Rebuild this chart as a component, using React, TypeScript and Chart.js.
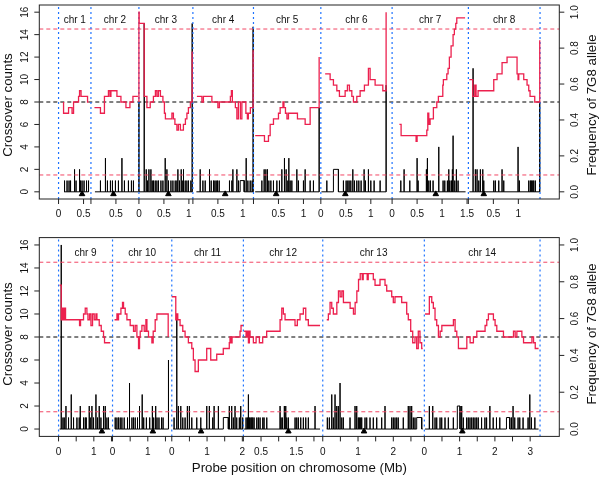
import React, { useEffect, useRef } from "react";
import { Chart, registerables } from "chart.js";
Chart.register(...registerables);

const FONT = '"Liberation Sans", Arial, Helvetica, sans-serif';

// ---------- top panel ----------
const topNames = ["chr 1", "chr 2", "chr 3", "chr 4", "chr 5", "chr 6", "chr 7", "chr 8"];
const topLens = [0.648, 0.96, 1.08, 1.212, 1.348, 1.426, 1.526, 1.434];
const topShown = [[0, 0.5], [0.5], [0, 0.5, 1], [0.5, 1], [0.5, 1], [0, 0.5, 1], [0, 0.5, 1, 1.5], [0.5, 1]];
const topCentromeres = [0.47, 0.45, 0.59, 0.646, 0.454, 0.49, 0.874, 0.308];

const chr1RedX = [0.1, 0.1, 0.2, 0.27, 0.3, 0.4, 0.42, 0.45, 0.58, 0.6];
const chr1RedY = [8, 7, 7.5, 7, 8, 8.5, 9, 8.5, 8, 8];
const chr1BarX = [0.12, 0.17, 0.21, 0.24, 0.32, 0.35, 0.42, 0.44, 0.47, 0.51, 0.56, 0.6];
const chr1BarY = [1, 1, 1, 1, 2, 1, 2, 1, 1, 1, 1, 1];
const chr1Base = [0.11, 0.6];

const chr2RedX = [0.07, 0.19, 0.27, 0.35, 0.38, 0.4, 0.52, 0.6, 0.7, 0.78, 0.84, 0.94];
const chr2RedY = [7.5, 7, 8.5, 9, 8.5, 9, 8.5, 8, 7.5, 8, 8.5, 8.5];
const chr2BarX = [0.19, 0.29, 0.33, 0.39, 0.43, 0.49, 0.55, 0.62, 0.67, 0.75, 0.81, 0.85];
const chr2BarY = [1, 3, 1, 1, 1, 1, 1, 3, 1, 1, 1, 1];
const chr2Base = [0.08, 0.95];

const chr3RedX = [0, 0, 0.005, 0.106, 0.16, 0.226, 0.29, 0.33, 0.36, 0.39, 0.43, 0.48, 0.51, 0.53, 0.66, 0.69, 0.72, 0.76, 0.79, 0.83, 0.89, 0.93, 0.96, 0.99, 1.03, 1.065, 1.065];
const chr3RedY = [8, 16, 15, 8.5, 7.5, 8, 8.5, 9, 8.5, 9, 8.5, 8, 7, 6.5, 7, 6.5, 6, 5.5, 6, 5.5, 6, 6.5, 7, 7.5, 8, 8, 12.5];
const chr3BarX = [0, 0.106, 0.146, 0.172, 0.2, 0.24, 0.266, 0.292, 0.326, 0.36, 0.392, 0.44, 0.48, 0.526, 0.56, 0.592, 0.64, 0.68, 0.726, 0.76, 0.78, 0.812, 0.846, 0.866, 0.892, 0.926, 0.96, 0.992, 1.04, 1.066];
const chr3BarY = [8, 15, 2, 1, 2, 2, 1, 1, 1, 1, 1, 1, 1, 3, 2, 1, 1, 1, 1, 1, 2, 1, 2, 1, 2, 1, 1, 1, 1, 15];
const chr3Base = [0, 1.066];

const chr4RedX = [0.08, 0.18, 0.21, 0.38, 0.5, 0.53, 0.75, 0.77, 0.79, 0.85, 0.88, 0.91, 0.95, 0.98, 1.06, 1.09, 1.11, 1.15, 1.205, 1.205];
const chr4RedY = [8.5, 8, 8.5, 8, 7.5, 8, 8.5, 9, 8, 7.5, 6.5, 8, 6.5, 8, 7, 6.5, 7, 7.5, 7.5, 12.6];
const chr4BarX = [0.146, 0.2, 0.246, 0.332, 0.366, 0.412, 0.44, 0.466, 0.492, 0.526, 0.732, 0.78, 0.8, 0.88, 0.912, 1.066, 1.1, 1.146, 1.186, 1.205];
const chr4BarY = [2, 1, 1, 2, 1, 1, 1, 1, 1, 1, 1, 1, 2, 2, 1, 3, 1, 1, 1, 14.7];
const chr4Blocks = [[0.946, 1.026, 1]];
const chr4Base = [0.07, 1.205];

const chr5RedX = [0.034, 0.22, 0.3, 0.334, 0.4, 0.5, 0.534, 0.59, 0.61, 0.64, 0.67, 0.7, 0.88, 1.034, 1.134, 1.314, 1.314];
const chr5RedY = [5, 4.5, 5, 6, 6.5, 7, 7.5, 8, 7.5, 7, 6.5, 7, 6.5, 6, 7.5, 7.5, 12];
const chr5BarX = [0.168, 0.214, 0.248, 0.28, 0.308, 0.348, 0.4, 0.468, 0.52, 0.568, 0.62, 0.654, 0.688, 0.708, 0.734, 0.768, 0.868, 0.9, 1.0, 1.034, 1.134, 1.2, 1.314];
const chr5BarY = [1, 2, 2, 2, 1, 1, 1, 1, 1, 2, 3, 2, 1, 3, 1, 1, 2, 1, 1, 2, 1, 1, 7.5];
const chr5Base = [0.034, 1.314];

const chr6RedX = [0.086, 0.186, 0.252, 0.32, 0.372, 0.486, 0.532, 0.572, 0.62, 0.652, 0.72, 0.786, 0.872, 0.952, 0.986, 1.086, 1.24, 1.306, 1.306];
const chr6RedY = [10.5, 10, 9.5, 9, 8.5, 9, 9.5, 9, 8.5, 8, 8.5, 9, 9.5, 11, 10, 9.5, 9, 9.5, 16];
const chr6BarX = [0.12, 0.452, 0.506, 0.54, 0.566, 0.6, 0.64, 0.672, 0.72, 0.76, 0.806, 0.866, 0.892, 0.952, 1.0, 1.066, 1.186, 1.306];
const chr6BarY = [1, 1, 1, 1, 1, 1, 2, 1, 1, 1, 1, 2, 1, 2, 1, 1, 1, 9.5];
const chr6Blocks = [[0.252, 0.352, 2]];
const chr6Base = [0.012, 1.306];

const chr7RedX = [0.146, 0.18, 0.48, 0.5, 0.694, 0.714, 0.734, 0.76, 0.826, 0.894, 0.926, 1.014, 1.026, 1.094, 1.12, 1.146, 1.18, 1.22, 1.246, 1.274, 1.294, 1.46];
const chr7RedY = [6, 5, 4.5, 5, 5.5, 7, 6, 6.5, 7.5, 8, 8.5, 9.5, 10, 10.5, 11, 12, 13, 14, 14.5, 15, 15.5, 15.5];
const chr7BarX = [0.174, 0.24, 0.354, 0.5, 0.52, 0.686, 0.706, 0.734, 0.766, 0.82, 0.934, 1.02, 1.054, 1.106, 1.134, 1.154, 1.186, 1.206, 1.22, 1.254, 1.286, 1.32];
const chr7BarY = [1, 2, 1, 3, 1, 2, 3, 1, 1, 1, 4, 1, 1, 1, 2, 1, 1, 2, 5, 1, 2, 1];
const chr7Base = [0.146, 1.47];

const chr8RedX = [0.02, 0.088, 0.128, 0.154, 0.194, 0.508, 0.574, 0.674, 0.774, 0.974, 0.994, 1.008, 1.108, 1.174, 1.208, 1.234, 1.328, 1.428, 1.428];
const chr8RedY = [10, 8.5, 9.5, 8.5, 9, 10, 10.5, 11.5, 12, 10.5, 10, 10.5, 10, 9.5, 9, 8.5, 8, 8, 13.5];
const chr8BarX = [0.094, 0.14, 0.174, 0.208, 0.24, 0.288, 0.308, 0.508, 0.54, 0.608, 0.674, 0.708, 0.994, 1.02, 1.208, 1.24, 1.26, 1.288, 1.308, 1.34, 1.428];
const chr8BarY = [11, 2, 2, 1, 2, 2, 1, 1, 1, 1, 2, 1, 4, 1, 1, 1, 1, 1, 1, 1, 8];
const chr8Base = [0.02, 1.428];

// ---------- bottom panel ----------
const bottomNames = ["chr 9", "chr 10", "chr 11", "chr 12", "chr 13", "chr 14"];
const bottomLens = [1.53, 1.68, 2.03, 2.25, 2.88, 3.28];
const bottomShown = [[0, 1], [0, 1], [0, 1, 2], [0.5, 1.5], [0, 1, 2], [0, 1, 2, 3]];
const bottomCentromeres = [1.229, 1.144, 0.83, 1.275, 1.17, 1.077];

const chr9RedX = [0.03, 0.076, 0.105, 0.133, 0.161, 0.198, 0.595, 0.623, 0.708, 0.756, 0.804, 0.833, 0.878, 0.918, 0.963, 1.011, 1.059, 1.088, 1.153, 1.21, 1.275, 1.303, 1.465];
const chr9RedY = [12.5, 9.5, 10.5, 9.5, 10.5, 9.5, 9, 9.5, 10, 10.5, 10, 9.5, 10, 9, 10, 9.5, 10, 9.5, 9, 8.5, 8, 7.5, 7.5];
const chr9BarX = [0.076, 0.125, 0.161, 0.21, 0.283, 0.36, 0.425, 0.521, 0.586, 0.615, 0.708, 0.756, 0.785, 0.87, 0.898, 0.946, 0.992, 1.06, 1.105, 1.153, 1.201, 1.275, 1.323, 1.371, 1.416];
const chr9BarY = [16, 1, 1, 2, 1, 3, 1, 1, 1, 2, 1, 1, 1, 2, 1, 2, 1, 3, 1, 2, 1, 2, 2, 1, 1];
const chr9Base = [0.03, 1.465];

const chr10RedX = [0.057, 0.125, 0.153, 0.17, 0.238, 0.283, 0.312, 0.36, 0.408, 0.501, 0.595, 0.643, 0.691, 0.737, 0.765, 0.785, 0.833, 0.898, 0.946, 0.975, 1.02, 1.116, 1.153, 1.209, 1.258, 1.578, 1.578];
const chr10RedY = [9.5, 10, 9.5, 10, 10.5, 11, 10.5, 10, 9.5, 9, 8.5, 9, 8, 7, 8, 8.5, 9, 8.5, 9.5, 8.5, 8, 7.5, 8.5, 9.5, 10, 10, 8];
const chr10BarX = [0.076, 0.125, 0.17, 0.218, 0.266, 0.331, 0.425, 0.482, 0.55, 0.595, 0.643, 0.708, 0.765, 0.841, 0.884, 0.96, 1.054, 1.13, 1.167, 1.224, 1.261, 1.317, 1.388, 1.433, 1.586];
const chr10BarY = [1, 1, 1, 1, 1, 1, 1, 4, 1, 1, 1, 1, 2, 3, 1, 1, 1, 2, 1, 2, 1, 1, 1, 1, 6];
const chr10Base = [0.07, 1.586];

const chr11RedX = [0, 0.113, 0.142, 0.17, 0.235, 0.311, 0.377, 0.47, 0.567, 0.612, 0.66, 0.753, 0.99, 1.104, 1.274, 1.46, 1.63, 1.65, 1.68, 1.709, 1.935, 1.963, 2.02];
const chr11RedY = [11.5, 9.5, 10, 9.5, 9, 8.5, 8, 7.5, 7, 6, 5, 6, 7, 6, 6.5, 7, 7.5, 8, 7.5, 8, 8.5, 9, 9];
const chr11BarX = [0.065, 0.142, 0.187, 0.255, 0.312, 0.377, 0.442, 0.499, 0.567, 0.708, 0.822, 0.992, 1.065, 1.161, 1.2, 1.321, 1.631, 1.699, 1.745, 1.793, 1.841, 1.915, 1.955, 2.011];
const chr11BarY = [1, 10, 2, 2, 1, 1, 2, 2, 1, 1, 1, 2, 2, 1, 2, 2, 2, 2, 1, 2, 1, 1, 2, 1];
const chr11Blocks = [[1.462, 1.603, 1]];
const chr11Base = [0.04, 2.02];

const chr12RedX = [0.02, 0.076, 0.105, 0.142, 0.17, 0.19, 0.283, 0.36, 0.453, 0.547, 0.66, 1.04, 1.088, 1.133, 1.181, 1.464, 1.529, 1.606, 1.7, 1.768, 1.841, 2.173];
const chr12RedY = [8.5, 8, 8.5, 7.5, 8.5, 8, 7.5, 8, 7.5, 8, 8.5, 9.5, 10.5, 10, 9.5, 9, 9.5, 10, 10.5, 9.5, 9, 9];
const chr12BarX = [0.076, 0.113, 0.142, 0.17, 0.21, 0.238, 0.266, 0.303, 0.38, 0.425, 0.473, 0.55, 0.586, 0.663, 1.04, 1.068, 1.105, 1.161, 1.201, 1.229, 1.275, 1.465, 1.513, 1.558, 1.626, 1.7, 1.768, 1.841, 2.031];
const chr12BarY = [1, 1, 3, 1, 1, 1, 1, 1, 1, 1, 1, 1, 1, 1, 2, 1, 1, 2, 2, 1, 1, 1, 1, 1, 1, 1, 1, 1, 2];
const chr12Base = [0.02, 2.173];

const chr13RedX = [0.113, 0.159, 0.207, 0.255, 0.3, 0.399, 0.445, 0.493, 0.541, 0.586, 0.776, 0.87, 0.918, 0.966, 1.014, 1.062, 1.119, 1.147, 1.26, 1.289, 1.433, 1.482, 1.623, 1.765, 1.813, 1.955, 2.0, 2.048, 2.238, 2.38, 2.425, 2.493, 2.55, 2.615, 2.663, 2.708, 2.756, 2.805, 2.833];
const chr13RedY = [9.5, 10, 11, 10.5, 10, 11, 12, 11.5, 12, 11, 10.5, 10, 11, 12, 13, 13.5, 13, 13.5, 13, 13.5, 13, 12.5, 13, 12.5, 12, 11.5, 11, 11.5, 11, 10, 9.5, 8.5, 7.5, 8, 7, 8.5, 7.5, 7, 7];
const chr13BarX = [0.13, 0.187, 0.255, 0.3, 0.348, 0.397, 0.442, 0.49, 0.539, 0.584, 0.773, 0.915, 0.963, 1.008, 1.037, 1.076, 1.105, 1.198, 1.246, 1.34, 1.433, 1.53, 1.671, 1.765, 1.955, 2.0, 2.048, 2.096, 2.14, 2.283, 2.425, 2.473, 2.521, 2.567, 2.615];
const chr13BarY = [1, 1, 3, 1, 3, 2, 2, 4, 1, 1, 1, 2, 2, 1, 1, 1, 1, 1, 1, 1, 1, 1, 1, 2, 1, 1, 1, 1, 1, 1, 2, 2, 2, 1, 1];
const chr13Blocks = [[2.663, 2.805, 1]];
const chr13Base = [0.113, 2.833];

const chr14RedX = [0.02, 0.142, 0.21, 0.255, 0.303, 0.351, 0.399, 0.448, 0.496, 0.824, 0.872, 0.92, 0.966, 1.204, 1.297, 1.391, 1.487, 1.722, 1.77, 1.816, 1.958, 2.006, 2.054, 2.243, 2.527, 2.575, 2.623, 2.765, 2.812, 3.05, 3.096, 3.144, 3.238];
const chr14RedY = [10, 11.5, 11, 10.5, 9.5, 9, 8, 8.5, 9, 9.5, 8.5, 8, 7, 8, 7.5, 8, 8.5, 9, 9.5, 10, 9.5, 9, 8.5, 8, 8.5, 8, 8.5, 8, 7.5, 8, 7.5, 7, 7];
const chr14BarX = [0.142, 0.238, 0.303, 0.351, 0.445, 0.493, 0.586, 0.68, 0.822, 1.059, 1.105, 1.2, 1.246, 1.294, 1.343, 1.388, 1.436, 1.484, 1.529, 1.623, 1.717, 1.765, 1.858, 1.952, 2.045, 2.139, 2.47, 2.515, 2.563, 2.657, 2.705, 2.799, 2.941, 2.99, 3.037, 3.133];
const chr14BarY = [2, 2, 1, 1, 1, 1, 1, 1, 1, 2, 1, 1, 1, 1, 1, 1, 1, 1, 1, 1, 1, 1, 2, 1, 1, 1, 1, 2, 1, 1, 1, 1, 1, 3, 1, 1];
const chr14Blocks = [[0.935, 1.011, 2], [2.328, 2.422, 1]];
const chr14Base = [0.02, 3.238];

// reference levels (crossover counts), right axis = frequency = count / 16
const refRed = [14.5, 1.5];
const refBlack = 8;
const leftTicks = [0, 2, 4, 6, 8, 10, 12, 14, 16];
const rightTicks = [0, 0.2, 0.4, 0.6, 0.8, 1.0];

type Chr = { redX: number[]; redY: number[]; barX: number[]; barY: number[]; blocks: number[][]; base: number[]; cen: number };

const topChrs: Chr[] = [
  { redX: chr1RedX, redY: chr1RedY, barX: chr1BarX, barY: chr1BarY, blocks: [], base: chr1Base, cen: topCentromeres[0] },
  { redX: chr2RedX, redY: chr2RedY, barX: chr2BarX, barY: chr2BarY, blocks: [], base: chr2Base, cen: topCentromeres[1] },
  { redX: chr3RedX, redY: chr3RedY, barX: chr3BarX, barY: chr3BarY, blocks: [], base: chr3Base, cen: topCentromeres[2] },
  { redX: chr4RedX, redY: chr4RedY, barX: chr4BarX, barY: chr4BarY, blocks: chr4Blocks, base: chr4Base, cen: topCentromeres[3] },
  { redX: chr5RedX, redY: chr5RedY, barX: chr5BarX, barY: chr5BarY, blocks: [], base: chr5Base, cen: topCentromeres[4] },
  { redX: chr6RedX, redY: chr6RedY, barX: chr6BarX, barY: chr6BarY, blocks: chr6Blocks, base: chr6Base, cen: topCentromeres[5] },
  { redX: chr7RedX, redY: chr7RedY, barX: chr7BarX, barY: chr7BarY, blocks: [], base: chr7Base, cen: topCentromeres[6] },
  { redX: chr8RedX, redY: chr8RedY, barX: chr8BarX, barY: chr8BarY, blocks: [], base: chr8Base, cen: topCentromeres[7] },
];
const bottomChrs: Chr[] = [
  { redX: chr9RedX, redY: chr9RedY, barX: chr9BarX, barY: chr9BarY, blocks: [], base: chr9Base, cen: bottomCentromeres[0] },
  { redX: chr10RedX, redY: chr10RedY, barX: chr10BarX, barY: chr10BarY, blocks: [], base: chr10Base, cen: bottomCentromeres[1] },
  { redX: chr11RedX, redY: chr11RedY, barX: chr11BarX, barY: chr11BarY, blocks: chr11Blocks, base: chr11Base, cen: bottomCentromeres[2] },
  { redX: chr12RedX, redY: chr12RedY, barX: chr12BarX, barY: chr12BarY, blocks: [], base: chr12Base, cen: bottomCentromeres[3] },
  { redX: chr13RedX, redY: chr13RedY, barX: chr13BarX, barY: chr13BarY, blocks: chr13Blocks, base: chr13Base, cen: bottomCentromeres[4] },
  { redX: chr14RedX, redY: chr14RedY, barX: chr14BarX, barY: chr14BarY, blocks: chr14Blocks, base: chr14Base, cen: bottomCentromeres[5] },
];

const RED = "rgb(236, 32, 78)";
const RED_DASH = "rgb(242, 70, 100)";
const BLUE = "rgb(30, 115, 255)";
const YMIN = -0.64;
const YMAX = 16.64;

type PanelProps = {
  chrs: Chr[]; names: string[]; lens: number[]; shown: number[][];
  top: number; height: number; pad: { left: number; right: number; top: number; bottom: number };
  xTitle: boolean; titleShift: number;
};

function Panel(p: PanelProps) {
  const ref = useRef<HTMLCanvasElement>(null);
  useEffect(() => {
    const offs: number[] = [];
    let acc = 0;
    p.lens.forEach((l) => { offs.push(acc); acc += l; });
    const total = acc;
    const ext = total * 0.04;
    const xmin = -ext, xmax = total + ext;
    const datasets: any[] = [];

    p.chrs.forEach((c, i) => {
      const o = offs[i];
      // red frequency step line
      datasets.push({
        data: c.redX.map((x, j) => ({ x: o + x, y: c.redY[j] })),
        borderColor: RED, borderWidth: 1.3, stepped: true, pointRadius: 0, order: 0,
      });
      // black crossover counts
      const ev: any[] = [];
      c.barX.forEach((x, j) => ev.push({ x, v: c.barY[j], e: null }));
      c.blocks.forEach((b) => ev.push({ x: b[0], v: b[2], e: b[1] }));
      ev.sort((a, b) => a.x - b.x);
      const pts: any[] = [{ x: o + c.base[0], y: 0 }];
      ev.forEach((e) => {
        if (e.e === null) {
          pts.push({ x: o + e.x, y: 0 }, { x: o + e.x, y: e.v }, { x: o + e.x, y: 0 });
        } else {
          pts.push({ x: o + e.x, y: 0 }, { x: o + e.x, y: e.v }, { x: o + e.e, y: e.v }, { x: o + e.e, y: 0 });
        }
      });
      pts.push({ x: o + c.base[1], y: 0 });
      datasets.push({ data: pts, borderColor: "#000", borderWidth: 1, pointRadius: 0, order: 4 });
    });

    // centromere triangles
    datasets.push({
      data: p.chrs.map((c, i) => ({ x: offs[i] + c.cen, y: -0.2 })),
      showLine: false, pointStyle: "triangle", pointRadius: 3.2, pointBorderWidth: 1,
      pointBackgroundColor: "#000", pointBorderColor: "#000", order: 1,
    });

    // chromosome boundaries
    const bounds = [...offs, total];
    bounds.forEach((b) => {
      datasets.push({
        data: [{ x: b, y: YMIN }, { x: b, y: YMAX }],
        borderColor: BLUE, borderWidth: 1.2, borderDash: [2, 3], pointRadius: 0, order: 2,
      });
    });

    // reference levels
    refRed.forEach((v) => {
      datasets.push({
        data: [{ x: xmin, y: v }, { x: xmax, y: v }],
        borderColor: RED_DASH, borderWidth: 1, borderDash: [4, 3], pointRadius: 0, order: 3,
      });
    });
    datasets.push({
      data: [{ x: xmin, y: refBlack }, { x: xmax, y: refBlack }],
      borderColor: "#000", borderWidth: 1, borderDash: [4, 3], pointRadius: 0, order: 3,
    });

    const axes = {
      id: "axesR",
      afterDraw(chart: any) {
        const { ctx, chartArea: a, scales } = chart;
        const xs = scales.x, ys = scales.y;
        ctx.save();
        ctx.strokeStyle = "#222";
        ctx.lineWidth = 1;
        ctx.strokeRect(a.left, a.top, a.right - a.left, a.bottom - a.top);
        ctx.fillStyle = "#111";
        ctx.font = "10px " + FONT;
        const rot = (s: string, cx: number, cy: number) => {
          ctx.save();
          ctx.translate(cx, cy);
          ctx.rotate(-Math.PI / 2);
          ctx.textAlign = "center";
          ctx.textBaseline = "middle";
          ctx.fillText(s, 0, 0);
          ctx.restore();
        };
        const line = (x1: number, y1: number, x2: number, y2: number) => {
          ctx.beginPath(); ctx.moveTo(x1, y1); ctx.lineTo(x2, y2); ctx.stroke();
        };
        leftTicks.forEach((v) => {
          const py = ys.getPixelForValue(v);
          line(a.left - 5, py, a.left, py);
          rot(String(v), a.left - 14.3, py);
        });
        rightTicks.forEach((v) => {
          const py = ys.getPixelForValue(v * 16);
          line(a.right, py, a.right + 5, py);
          rot(v.toFixed(1), a.right + 15.7, py);
        });
        ctx.textAlign = "center";
        ctx.textBaseline = "middle";
        p.lens.forEach((len, i) => {
          for (let t = 0; t <= len + 1e-9; t += 0.5) {
            const px = xs.getPixelForValue(offs[i] + t);
            line(px, a.bottom, px, a.bottom + 5);
          }
          p.shown[i].forEach((t) => {
            const px = xs.getPixelForValue(offs[i] + t);
            ctx.fillText(String(t), px, a.bottom + 15.6);
          });
          ctx.fillText(p.names[i], xs.getPixelForValue(offs[i] + len / 2), ys.getPixelForValue(15.3));
        });
        ctx.font = "13.3px " + FONT;
        ctx.fillStyle = "#111";
        const cy = (a.top + a.bottom) / 2 + p.titleShift;
        rot("Crossover counts", 8.5, cy);
        rot("Frequency of 7G8 allele", 592.5, cy);
        if (p.xTitle) {
          ctx.textAlign = "center";
          ctx.textBaseline = "middle";
          ctx.fillText("Probe position on chromosome (Mb)", (a.left + a.right) / 2, a.bottom + 31.8);
        }
        ctx.restore();
      },
    };

    const chart = new Chart(ref.current as HTMLCanvasElement, {
      type: "line",
      data: { datasets },
      options: {
        responsive: false,
        animation: false,
        devicePixelRatio: 1,
        events: [],
        layout: { padding: p.pad },
        plugins: { legend: { display: false }, tooltip: { enabled: false } },
        elements: { line: { tension: 0 }, point: { radius: 0 } },
        scales: {
          x: { type: "linear", min: xmin, max: xmax, display: false },
          y: { type: "linear", min: YMIN, max: YMAX, display: false },
        },
      } as any,
      plugins: [axes],
    });
    return () => chart.destroy();
  }, []);
  return (
    <canvas
      ref={ref}
      width={600}
      height={p.height}
      style={{ position: "absolute", left: 0, top: p.top, width: 600, height: p.height }}
    />
  );
}

export default function App() {
  return (
    <div style={{ position: "absolute", left: 0, top: 0, width: 600, height: 478, background: "#fff", overflow: "hidden" }}>
      <Panel chrs={topChrs} names={topNames} lens={topLens} shown={topShown} top={0} height={230}
        pad={{ left: 39.3, right: 40.7, top: 1, bottom: 31 }} xTitle={false} titleShift={3} />
      <Panel chrs={bottomChrs} names={bottomNames} lens={bottomLens} shown={bottomShown} top={230} height={248}
        pad={{ left: 39.3, right: 40.7, top: 7.6, bottom: 41.6 }} xTitle={true} titleShift={-3} />
    </div>
  );
}
